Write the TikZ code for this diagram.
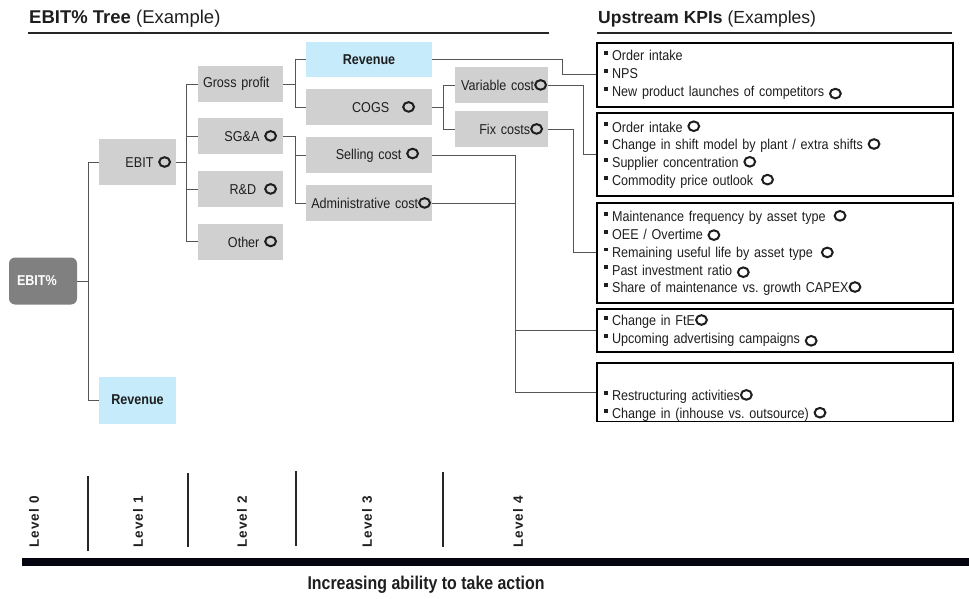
\documentclass[tikz,border=0pt]{standalone}
\usepackage{fontspec}
\setmainfont{Liberation Sans}[FakeStretch=0.88]
\newfontfamily\headfont{Liberation Sans}
\newfontfamily\levelfont{Liberation Sans}[LetterSpace=8]
\newfontfamily\footfont{Liberation Sans}[FakeStretch=0.86]
\frenchspacing

\definecolor{boxgray}{RGB}{208,208,208}
\definecolor{boxblue}{RGB}{198,236,252}
\definecolor{rootgray}{RGB}{128,128,128}
\definecolor{ink}{RGB}{30,30,30}
\definecolor{wirecol}{RGB}{85,85,85}
\definecolor{barink}{RGB}{5,5,15}

\newcommand{\kfont}{\fontsize{14.3}{17.8}\selectfont}
\newcommand{\kbul}{\raisebox{5.8pt}{\rule{3.8pt}{3.8pt}}\hspace{4.4pt}}
\newcommand{\kring}[1][0pt]{\raisebox{#1}{\tikz\draw[line width=2pt] (0,0) ellipse (5.4pt and 4.8pt);}}

\begin{document}
\begin{tikzpicture}[x=1pt,y=-1pt,
  every node/.style={font=\kfont, text=ink},
  gbox/.style={fill=boxgray, minimum height=36pt, inner ysep=0pt},
  rbox/.style 2 args={gbox, text width=#1, inner xsep=#2, align=right},
  bbox/.style={fill=boxblue, font=\kfont\bfseries, inner sep=0pt},
  kpi/.style={draw=black, line width=1.8pt, anchor=north west, text width=342pt,
    inner xsep=7pt, inner ysep=0pt, align=left},
  wire/.style={draw=wirecol, line width=0.9pt},
  lvl/.style={rotate=90, font=\levelfont\fontsize{13.5}{13.5}\selectfont\bfseries}]
  \useasboundingbox (0,0) rectangle (969,599);

  % headings
  \node[anchor=base west, inner sep=0pt, font=\headfont\fontsize{18.5}{20}\selectfont]
    (ttree) at (29,23.5) {\textbf{EBIT\% Tree} (Example)};
  \node[anchor=base west, inner sep=0pt, font=\headfont\fontsize{17.5}{20}\selectfont]
    (tkpi) at (598,23.5) {\textbf{Upstream KPIs} (Examples)};
  \draw[line width=1.4pt, black!85] (28,33) -- (549,33);
  \draw[line width=1.4pt, black!85] (597,33) -- (952,33);

  % levels 0 and 1
  \node[fill=rootgray, rounded corners=6pt, minimum height=47pt, text width=52pt,
    inner xsep=8pt, font=\kfont\bfseries, text=white, align=left] (ebitp) at (43,281) {EBIT\%};
  \node[rbox={67pt}{5pt}, minimum height=46pt] (ebit) at (137.5,162) {EBIT \kring};
  \node[bbox, minimum width=77pt, minimum height=47pt] (revb) at (137.5,400) {Revenue};

  % level 2
  \node[gbox, text width=75pt, inner xsep=5pt, align=left] (gp) at (240.5,84) {Gross profit};
  \node[rbox={73pt}{6pt}] (sga) at (240.5,136) {SG\&A \kring};
  \node[rbox={73pt}{6pt}] (rnd) at (240.5,189) {R\&D\hspace{8pt}\kring};
  \node[rbox={73pt}{6pt}] (other) at (240.5,241.5) {Other \kring};

  % level 3
  \node[bbox, minimum width=126pt, minimum height=35pt] (revt) at (369,59.5) {Revenue};
  \node[rbox={92pt}{17pt}] (cogs) at (369,107) {COGS\hspace{13pt}\kring};
  \node[rbox={100pt}{13pt}] (sell) at (369,155) {Selling cost \kring};
  \node[rbox={124pt}{1pt}] (admin) at (369,203) {Administrative cost\kring};

  % level 4
  \node[rbox={91pt}{1pt}] (var) at (501.5,85) {Variable cost\kring};
  \node[rbox={83pt}{5pt}] (fix) at (501.5,129) {Fix costs\kring};

  % upstream KPIs
  \node[kpi, minimum height=64pt] (k1) at (596,42)
    {\kbul Order intake\\ \kbul NPS\\ \kbul New product launches of competitors \kring[-3pt]};
  \node[kpi, minimum height=83pt] (k2) at (596,112)
    {\kbul Order intake \kring\\ \kbul Change in shift model by plant / extra shifts \kring\\
     \kbul Supplier concentration \kring\\ \kbul Commodity price outlook\hspace{8pt}\kring};
  \node[kpi, minimum height=100pt] (k3) at (596,202)
    {\kbul Maintenance frequency by asset type\hspace{8pt}\kring\\ \kbul OEE / Overtime \kring[-1.5pt]\\
     \kbul Remaining useful life by asset type\hspace{8pt}\kring[-1pt]\\
     \kbul Past investment ratio \kring[-3pt]\\ \kbul Share of maintenance vs. growth CAPEX\kring};
  \node[kpi, minimum height=43pt] (k4) at (596,308)
    {\kbul Change in FtE\kring\\ \kbul Upcoming advertising campaigns \kring[-3pt]};
  \node[kpi, minimum height=58pt] (k5) at (596,362)
    {\rule{0pt}{20pt}\\ \kbul Restructuring activities\kring\\ \kbul Change in (inhouse vs. outsource) \kring};

  % connectors
  \foreach \n in {ebit,revb}
    \draw[wire] (ebitp.east) -- ++(11,0) |- (\n.west);
  \foreach \n in {gp,sga,rnd,other}
    \draw[wire] (ebit.east) -- ++(10,0) |- (\n.west);
  \foreach \n in {revt,cogs}
    \draw[wire] (gp.east) -- ++(12,0) |- (\n.west);
  \foreach \n in {sell,admin}
    \draw[wire] (sga.east) -- ++(12,0) |- (\n.west);
  \foreach \n in {var,fix}
    \draw[wire] (cogs.east) -- ++(11,0) |- (\n.west);
  \draw[wire] (revt.east) -- ++(130,0) |- (k1.west);
  \draw[wire] (var.east) -- ++(35,0) |- (k2.west);
  \draw[wire] (fix.east) -- ++(25,0) |- (k3.west);
  \foreach \n in {k4,k5}
    \draw[wire] (sell.east) -- ++(83,0) |- (\n.west);
  \draw[wire] (admin.east) -- ++(83,0);

  % level scale
  \foreach \x/\k in {34/0,138/1,242/2,367/3,518/4}
    \node[lvl] (lvl\k) at (\x,522) {Level \k};
  \foreach \x/\t/\b in {88/476/551,188/473/547,296/471/546,443/472/547}
    \draw[line width=1.5pt, black!85] (\x,\t) -- (\x,\b);
  \draw[line width=8pt, barink] (22,562) -- (969,562);
  \node[font=\footfont\fontsize{18.5}{20}\selectfont\bfseries] (action) at (426,585)
    {Increasing ability to take action};
\end{tikzpicture}
\end{document}
